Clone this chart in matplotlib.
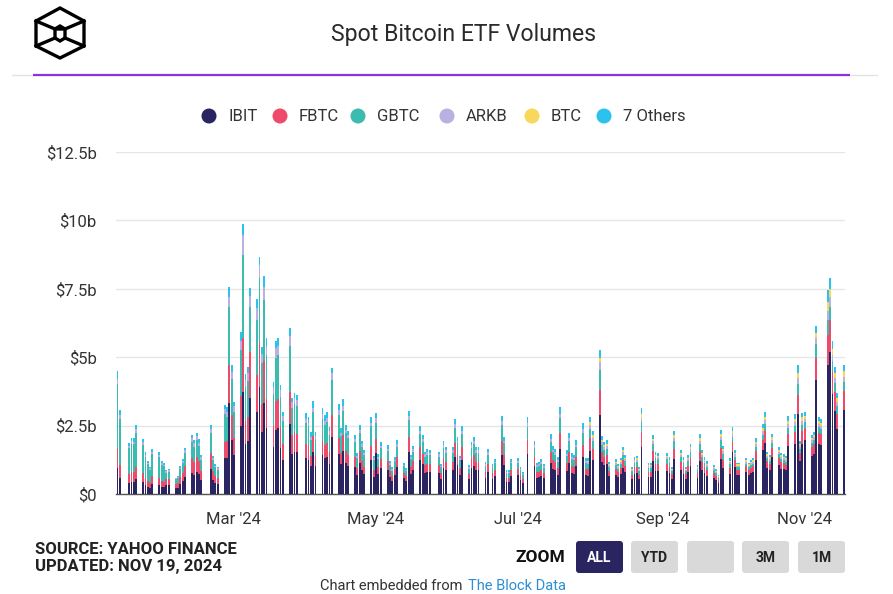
import numpy as np
import pandas as pd
import matplotlib
matplotlib.use("Agg")
import matplotlib.pyplot as plt
import matplotlib.dates as mdates
from matplotlib.patches import FancyBboxPatch, Circle, Polygon

# trading days shown in the chart (US market holidays removed)
holidays = ["2024-01-15", "2024-02-19", "2024-03-29", "2024-05-27",
            "2024-06-19", "2024-07-04", "2024-09-02"]
days = pd.bdate_range("2024-01-11", "2024-11-18", freq="C", holidays=holidays)

# daily volumes, $ billions (one line per month)
ibit = [
    0.94, 0.60, 0.41, 0.45, 0.45, 0.55, 0.44, 0.33, 0.27, 0.22, 0.36, 0.33, 0.26, 0.25,
    0.32, 0.33, 0.22, 0.23, 0.37, 0.46, 0.61, 0.78, 0.71, 0.81, 0.72, 0.51, 0.91, 0.50, 0.40, 0.36, 1.30, 1.33, 3.31, 1.98,
    1.42, 2.48, 3.74, 1.84, 1.95, 3.52, 3.00, 3.92, 2.26, 3.34, 2.40, 1.72, 2.35, 2.40, 1.68, 1.26, 2.55, 1.48, 1.55, 1.52,
    1.33, 1.26, 1.01, 1.53, 1.03, 1.41, 1.30, 1.35, 1.11, 2.09, 1.48, 1.08, 1.56, 1.13, 1.04, 0.97, 0.68, 1.13, 0.88, 0.72, 1.26, 0.63,
    1.49, 0.73, 0.95, 0.89, 0.61, 0.49, 0.68, 0.99, 0.57, 0.47, 1.53, 0.72, 0.88, 1.25, 1.08, 0.78, 0.82, 0.81, 0.78, 0.55, 0.96, 0.86,
    0.86, 1.37, 1.05, 0.70, 1.25, 0.53, 0.96, 1.04, 0.86, 0.86, 0.59, 0.82, 0.55, 0.64, 1.43, 1.05, 0.44, 0.44, 0.64,
    0.68, 0.51, 0.42, 1.46, 1.01, 0.59, 0.61, 0.66, 0.57, 1.14, 0.91, 0.86, 0.71, 1.65, 0.84, 1.15, 0.77, 0.74, 1.02, 1.34, 0.69, 0.67,
    1.56, 1.26, 2.89, 1.17, 1.05, 1.08, 0.65, 0.70, 0.61, 0.73, 0.94, 0.79, 0.54, 0.74, 0.76, 0.54, 1.72, 0.63, 0.63, 1.19, 0.85, 0.83,
    0.83, 0.75, 0.55, 1.27, 0.89, 0.74, 0.55, 0.79, 1.01, 0.58, 1.20, 0.89, 0.75, 0.66, 0.58, 0.50, 0.39, 1.29, 0.96, 0.72,
    1.53, 1.00, 0.71, 0.71, 0.81, 0.71, 0.77, 0.81, 1.26, 1.59, 1.87, 0.96, 0.89, 1.36, 1.06, 0.93, 0.90, 0.86, 1.77, 1.81, 2.92, 1.21, 1.84,
    1.96, 1.40, 1.48, 4.17, 1.82, 1.79, 4.71, 5.20, 3.64, 3.02, 2.39, 3.06,
]
fbtc = [
    0.73, 0.45, 0.32, 0.35, 0.35, 0.43, 0.34, 0.26, 0.21, 0.17, 0.28, 0.26, 0.20, 0.19,
    0.21, 0.22, 0.14, 0.16, 0.24, 0.31, 0.41, 0.52, 0.47, 0.54, 0.48, 0.34, 0.60, 0.34, 0.26, 0.24, 0.61, 0.60, 1.40, 0.89,
    0.64, 1.12, 1.95, 0.83, 0.88, 1.68, 1.36, 1.65, 1.02, 1.51, 1.08, 0.78, 1.06, 1.08, 0.76, 0.57, 1.16, 0.67, 0.70, 0.69,
    0.50, 0.48, 0.38, 0.58, 0.39, 0.53, 0.49, 0.51, 0.42, 0.80, 0.56, 0.41, 0.59, 0.43, 0.39, 0.37, 0.26, 0.43, 0.33, 0.27, 0.48, 0.24,
    0.53, 0.26, 0.34, 0.32, 0.22, 0.17, 0.24, 0.35, 0.21, 0.17, 0.55, 0.26, 0.32, 0.45, 0.39, 0.28, 0.29, 0.29, 0.28, 0.20, 0.35, 0.31,
    0.31, 0.49, 0.38, 0.25, 0.45, 0.19, 0.34, 0.37, 0.31, 0.31, 0.21, 0.29, 0.20, 0.23, 0.51, 0.38, 0.16, 0.16, 0.23,
    0.23, 0.18, 0.14, 0.50, 0.35, 0.21, 0.21, 0.23, 0.20, 0.39, 0.32, 0.30, 0.24, 0.57, 0.29, 0.40, 0.27, 0.26, 0.35, 0.46, 0.24, 0.23,
    0.48, 0.39, 0.91, 0.36, 0.32, 0.33, 0.20, 0.22, 0.19, 0.22, 0.29, 0.24, 0.17, 0.23, 0.24, 0.17, 0.53, 0.19, 0.19, 0.37, 0.26, 0.26,
    0.26, 0.23, 0.17, 0.39, 0.27, 0.23, 0.17, 0.24, 0.31, 0.18, 0.37, 0.27, 0.23, 0.20, 0.18, 0.15, 0.12, 0.40, 0.30, 0.22,
    0.37, 0.24, 0.17, 0.17, 0.20, 0.17, 0.19, 0.20, 0.30, 0.38, 0.45, 0.23, 0.21, 0.33, 0.26, 0.23, 0.22, 0.21, 0.43, 0.44, 0.71, 0.29, 0.45,
    0.45, 0.32, 0.34, 0.79, 0.42, 0.41, 1.10, 1.15, 0.84, 0.70, 0.55, 0.71,
]
gbtc = [
    2.35, 1.70, 0.94, 1.03, 1.01, 1.26, 1.01, 0.76, 0.60, 0.50, 0.81, 0.76, 0.60, 0.57,
    0.25, 0.26, 0.17, 0.18, 0.29, 0.36, 0.47, 0.61, 0.55, 0.63, 0.56, 0.40, 0.71, 0.39, 0.31, 0.28, 1.03, 0.89, 2.14, 1.32,
    0.94, 1.65, 3.05, 1.23, 1.30, 1.62, 2.00, 2.31, 1.51, 2.23, 1.60, 1.15, 1.57, 1.60, 1.12, 0.84, 1.70, 0.99, 1.04, 1.01,
    0.77, 0.73, 0.59, 0.88, 0.59, 0.81, 0.75, 0.78, 0.64, 1.28, 0.86, 0.62, 0.90, 0.66, 0.60, 0.56, 0.39, 0.66, 0.51, 0.42, 0.73, 0.36,
    0.59, 0.29, 0.38, 0.36, 0.24, 0.19, 0.27, 0.39, 0.23, 0.19, 0.61, 0.29, 0.35, 0.50, 0.43, 0.31, 0.33, 0.32, 0.31, 0.22, 0.38, 0.34,
    0.34, 0.55, 0.42, 0.28, 0.50, 0.21, 0.38, 0.41, 0.34, 0.34, 0.24, 0.33, 0.22, 0.25, 0.57, 0.42, 0.18, 0.18, 0.25,
    0.22, 0.17, 0.14, 0.48, 0.33, 0.19, 0.20, 0.22, 0.19, 0.37, 0.30, 0.28, 0.23, 0.54, 0.27, 0.38, 0.25, 0.24, 0.33, 0.44, 0.22, 0.20,
    0.34, 0.28, 0.73, 0.25, 0.23, 0.24, 0.14, 0.15, 0.13, 0.16, 0.21, 0.17, 0.12, 0.16, 0.17, 0.12, 0.38, 0.14, 0.14, 0.26, 0.19, 0.18,
    0.18, 0.16, 0.12, 0.28, 0.19, 0.16, 0.12, 0.17, 0.22, 0.13, 0.26, 0.19, 0.16, 0.14, 0.13, 0.11, 0.08, 0.28, 0.21, 0.16,
    0.20, 0.13, 0.09, 0.09, 0.10, 0.09, 0.10, 0.10, 0.16, 0.20, 0.24, 0.12, 0.11, 0.18, 0.14, 0.12, 0.12, 0.11, 0.23, 0.23, 0.38, 0.16, 0.24,
    0.21, 0.15, 0.16, 0.54, 0.20, 0.19, 0.55, 0.50, 0.39, 0.33, 0.26, 0.33,
]
arkb = [
    0.20, 0.14, 0.09, 0.10, 0.10, 0.13, 0.10, 0.08, 0.06, 0.05, 0.08, 0.08, 0.06, 0.06,
    0.05, 0.06, 0.04, 0.04, 0.06, 0.08, 0.10, 0.13, 0.12, 0.13, 0.12, 0.09, 0.15, 0.08, 0.07, 0.06, 0.16, 0.19, 0.36, 0.28,
    0.20, 0.35, 0.73, 0.26, 0.28, 0.40, 0.43, 0.49, 0.32, 0.48, 0.34, 0.25, 0.34, 0.34, 0.24, 0.18, 0.36, 0.21, 0.22, 0.22,
    0.15, 0.14, 0.11, 0.17, 0.11, 0.16, 0.14, 0.15, 0.12, 0.24, 0.16, 0.12, 0.17, 0.13, 0.12, 0.11, 0.07, 0.13, 0.10, 0.08, 0.14, 0.07,
    0.15, 0.07, 0.10, 0.09, 0.06, 0.05, 0.07, 0.10, 0.06, 0.05, 0.15, 0.07, 0.09, 0.12, 0.11, 0.08, 0.08, 0.08, 0.08, 0.06, 0.10, 0.08,
    0.08, 0.14, 0.10, 0.07, 0.12, 0.05, 0.10, 0.10, 0.08, 0.08, 0.06, 0.08, 0.06, 0.06, 0.14, 0.10, 0.04, 0.04, 0.06,
    0.07, 0.05, 0.04, 0.14, 0.10, 0.06, 0.06, 0.06, 0.06, 0.11, 0.09, 0.08, 0.07, 0.16, 0.08, 0.11, 0.07, 0.07, 0.10, 0.13, 0.07, 0.06,
    0.14, 0.12, 0.30, 0.11, 0.10, 0.10, 0.06, 0.06, 0.05, 0.07, 0.09, 0.07, 0.05, 0.07, 0.07, 0.05, 0.16, 0.06, 0.06, 0.11, 0.08, 0.07,
    0.07, 0.07, 0.05, 0.12, 0.08, 0.07, 0.05, 0.07, 0.09, 0.05, 0.11, 0.08, 0.07, 0.06, 0.05, 0.05, 0.04, 0.12, 0.09, 0.06,
    0.12, 0.08, 0.06, 0.06, 0.07, 0.06, 0.06, 0.07, 0.10, 0.13, 0.15, 0.08, 0.07, 0.11, 0.09, 0.08, 0.07, 0.07, 0.14, 0.15, 0.24, 0.10, 0.15,
    0.12, 0.09, 0.09, 0.20, 0.11, 0.11, 0.34, 0.35, 0.22, 0.19, 0.15, 0.19,
]
# Grayscale mini trust (BTC) only trades from Jul 31
btc = [0.0] * 138 + [
    0.06,
    0.11, 0.09, 0.15, 0.08, 0.08, 0.08, 0.05, 0.05, 0.04, 0.05, 0.07, 0.06, 0.04, 0.05, 0.06, 0.04, 0.13, 0.05, 0.05, 0.09, 0.06, 0.06,
    0.06, 0.05, 0.04, 0.09, 0.06, 0.05, 0.04, 0.06, 0.07, 0.04, 0.09, 0.06, 0.05, 0.05, 0.04, 0.04, 0.03, 0.09, 0.07, 0.05,
    0.10, 0.06, 0.05, 0.05, 0.05, 0.05, 0.05, 0.05, 0.08, 0.10, 0.12, 0.06, 0.06, 0.09, 0.07, 0.06, 0.06, 0.05, 0.11, 0.12, 0.19, 0.08, 0.12,
    0.12, 0.09, 0.09, 0.20, 0.11, 0.11, 0.30, 0.28, 0.22, 0.19, 0.15, 0.19,
]
others = [
    0.28, 0.18, 0.12, 0.12, 0.12, 0.15, 0.13, 0.09, 0.07, 0.06, 0.10, 0.09, 0.08, 0.07,
    0.05, 0.05, 0.03, 0.04, 0.06, 0.07, 0.10, 0.13, 0.12, 0.13, 0.12, 0.09, 0.15, 0.09, 0.06, 0.06, 0.14, 0.16, 0.37, 0.24,
    0.17, 0.31, 0.39, 0.22, 0.24, 0.30, 0.35, 0.29, 0.27, 0.40, 0.29, 0.20, 0.28, 0.29, 0.20, 0.16, 0.31, 0.17, 0.19, 0.18,
    0.20, 0.19, 0.16, 0.24, 0.16, 0.22, 0.20, 0.22, 0.17, 0.18, 0.23, 0.17, 0.24, 0.17, 0.16, 0.15, 0.10, 0.17, 0.13, 0.11, 0.19, 0.10,
    0.21, 0.10, 0.13, 0.12, 0.09, 0.07, 0.09, 0.14, 0.07, 0.06, 0.21, 0.09, 0.11, 0.17, 0.15, 0.10, 0.11, 0.11, 0.10, 0.07, 0.13, 0.12,
    0.12, 0.18, 0.15, 0.09, 0.17, 0.08, 0.13, 0.15, 0.12, 0.12, 0.08, 0.11, 0.07, 0.09, 0.20, 0.14, 0.06, 0.06, 0.09,
    0.10, 0.07, 0.06, 0.22, 0.16, 0.09, 0.10, 0.10, 0.08, 0.18, 0.13, 0.14, 0.11, 0.25, 0.13, 0.18, 0.13, 0.12, 0.17, 0.21, 0.10, 0.10,
    0.20, 0.16, 0.28, 0.15, 0.13, 0.14, 0.08, 0.09, 0.08, 0.09, 0.11, 0.10, 0.06, 0.09, 0.09, 0.06, 0.21, 0.07, 0.07, 0.14, 0.11, 0.10,
    0.10, 0.10, 0.07, 0.16, 0.12, 0.09, 0.07, 0.10, 0.14, 0.08, 0.16, 0.12, 0.10, 0.09, 0.08, 0.05, 0.04, 0.16, 0.12, 0.09,
    0.14, 0.10, 0.07, 0.07, 0.07, 0.07, 0.07, 0.07, 0.13, 0.16, 0.18, 0.10, 0.09, 0.12, 0.09, 0.08, 0.08, 0.08, 0.17, 0.17, 0.27, 0.11, 0.17,
    0.15, 0.11, 0.12, 0.24, 0.14, 0.14, 0.46, 0.40, 0.29, 0.22, 0.18, 0.23,
]

names = ["IBIT", "FBTC", "GBTC", "ARKB", "BTC", "7 Others"]
colors = ["#2a2560", "#ee4a6b", "#3cbcae", "#b8b1e1", "#f8d85a", "#2cc2ee"]
series = [ibit, fbtc, gbtc, arkb, btc, others]
for nm, s in zip(names, series):
    if len(s) != len(days):
        raise ValueError(f"{nm}: {len(s)} values for {len(days)} days")

yticks = [0, 2.5, 5, 7.5, 10, 12.5]
ylabels = ["$0", "$2.5b", "$5b", "$7.5b", "$10b", "$12.5b"]

W, H = 893, 594
fig = plt.figure(figsize=(W / 100, H / 100), dpi=100)
fig.patch.set_facecolor("white")

# overlay in pixel coordinates for header / legend / footer
ov = fig.add_axes([0, 0, 1, 1])
ov.set_xlim(0, W)
ov.set_ylim(H, 0)
ov.axis("off")

# logo
hexpts = [(60, 8), (84, 21), (84, 46), (60, 58), (36, 46), (36, 21)]
ov.add_patch(Polygon(hexpts, closed=True, fill=False, ec="black", lw=2.4, joinstyle="miter"))
ov.add_patch(Polygon([(60, 26), (65, 29), (65, 38), (60, 41), (55, 38), (55, 29)],
                     closed=True, fill=False, ec="black", lw=2.4))
ov.plot([36, 55, 65, 84], [21, 29, 29, 21], color="black", lw=2.4, solid_joinstyle="miter")
ov.plot([36, 55], [46, 38], color="black", lw=2.4)
ov.plot([84, 65], [46, 38], color="black", lw=2.4)

ov.text(464, 35, "Spot Bitcoin ETF Volumes", ha="center", va="center",
        fontsize=16.6, color="#2a2a2a", family="Roboto")
ov.plot([12, 877], [75, 75], color="#e3e3e3", lw=1)
ov.plot([33, 850], [74.5, 74.5], color="#9130e0", lw=1.6, solid_capstyle="butt")

# legend
leg_cx = [209, 280, 358, 447, 532, 604]
for cx, nm, c in zip(leg_cx, names, colors):
    ov.add_patch(Circle((cx, 116), 7.5, color=c, lw=0))
    ov.text(cx + 19, 116.5, nm, ha="left", va="center", fontsize=12,
            color="#333333", family="Roboto")

# footer
bold_font = "Roboto"
ov.text(35, 549, "SOURCE: YAHOO FINANCE", ha="left", va="center", fontsize=12,
        fontweight="bold", color="#222222", family=bold_font)
ov.text(35, 566, "UPDATED: NOV 19, 2024", ha="left", va="center", fontsize=12,
        fontweight="bold", color="#222222", family=bold_font)
ov.text(565, 557, "ZOOM", ha="right", va="center", fontsize=12.5,
        fontweight="bold", color="#111111", family=bold_font)
buttons = [("ALL", 576), ("YTD", 631), ("", 687), ("3M", 742), ("1M", 798)]
for lab, bx in buttons:
    active = lab == "ALL"
    ov.add_patch(FancyBboxPatch((bx + 2, 543), 43, 28, boxstyle="round,pad=2,rounding_size=3",
                                fc="#2a2560" if active else "#d9d9d9", ec="none"))
    ov.text(bx + 23.5, 558, lab, ha="center", va="center", fontsize=10, fontweight="bold",
            color="white" if active else "#222222", family=bold_font)
ov.text(320, 593, "Chart embedded from", ha="left", va="bottom", fontsize=10.5,
        color="#333333", family="Roboto")
ov.text(468, 593, "The Block Data", ha="left", va="bottom", fontsize=10.5,
        color="#2b8fd2", family="Roboto")

# main chart
ax = fig.add_axes([116 / W, 1 - 494 / H, (845 - 116) / W, (494 - 152) / H])
ax.set_facecolor("none")
bottom = np.zeros(len(days))
for nm, s, c in zip(names, series, colors):
    vals = np.array(s)
    ax.bar(days, vals, width=0.78, bottom=bottom, color=c, lw=0, label=nm, zorder=3)
    bottom += vals

ax.set_ylim(0, 12.5)
ax.set_xlim(days[0] - pd.Timedelta(hours=15), days[-1] + pd.Timedelta(hours=8))
ax.set_yticks(yticks)
ax.set_yticklabels(ylabels)
ax.grid(axis="y", color="#e6e6e6", lw=1, zorder=0)
ax.xaxis.set_major_locator(mdates.MonthLocator(bymonth=[3, 5, 7, 9, 11]))
ax.xaxis.set_major_formatter(mdates.DateFormatter("%b '%y"))
ax.tick_params(axis="both", length=0, labelsize=12, labelcolor="#333333")
ax.tick_params(axis="x", pad=13)
ax.tick_params(axis="y", pad=14)
for lab in ax.get_xticklabels() + ax.get_yticklabels():
    lab.set_family("Roboto")
for side in ["top", "right", "left"]:
    ax.spines[side].set_visible(False)
ax.spines["bottom"].set_color("#555555")
ax.spines["bottom"].set_linewidth(1)

fig.savefig("out.png", dpi=100, facecolor="white")
